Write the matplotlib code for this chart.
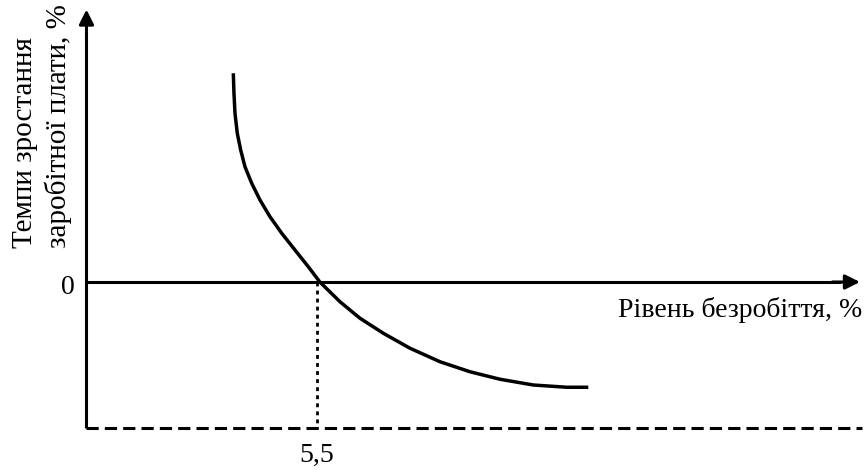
import numpy as np
from matplotlib import pyplot as plt

# Phillips curve
unemployment = [3.504, 3.520, 3.544, 3.599, 3.680, 3.783, 3.943, 4.141,
                4.380, 4.659, 4.976, 5.294, 5.57, 6.050, 6.527, 7.084,
                7.721, 8.437, 9.153, 9.869, 10.663, 11.461, 11.976]
wage_growth = [8.35, 7.55, 6.75, 5.95, 5.28, 4.61, 3.95, 3.28,
               2.61, 1.95, 1.28, 0.61, 0.0, -0.79, -1.45, -2.05,
               -2.65, -3.19, -3.59, -3.89, -4.12, -4.21, -4.21]
natural_rate = 5.5
natural_label = '5,5'
zero_label = '0'
x_label = 'Рівень безробіття, %'
y_label = 'Темпи зростання\nзаробітної плати, %'

x_min, x_max = -2.064, 18.58
y_min, y_max = -7.52, 11.28
y_bottom = -5.84

plt.rcParams['font.family'] = ['Liberation Serif', 'DejaVu Serif']

fig = plt.figure(figsize=(8.65, 4.7), dpi=100)
ax = fig.add_axes([0, 0, 1, 1])
ax.set_xlim(x_min, x_max)
ax.set_ylim(y_min, y_max)
ax.axis('off')

lw = 2.2
arrow = dict(arrowstyle='-|>', color='black', lw=lw,
             mutation_scale=22, shrinkA=0, shrinkB=0)
# vertical axis with arrow
ax.plot([0, 0], [y_bottom, 10.0], color='black', lw=lw, solid_capstyle='butt')
ax.annotate('', xy=(0, 10.9), xytext=(0, 9.7), arrowprops=arrow)
# horizontal axis with arrow
ax.plot([0, 18.0], [0, 0], color='black', lw=lw, solid_capstyle='butt')
ax.annotate('', xy=(18.46, 0), xytext=(17.8, 0), arrowprops=arrow)

# bottom dashed line and dotted guide
ax.plot([0, 18.51], [y_bottom, y_bottom], color='black', lw=lw,
        linestyle=(0, (4, 2)))
ax.plot([natural_rate, natural_rate], [0, y_bottom], color='black', lw=2.0,
        linestyle=(0, (1.4, 1.5)))

# the curve
ax.plot(unemployment, wage_growth, color='black', lw=2.5,
        solid_capstyle='butt', solid_joinstyle='round')

# labels
ax.text(-0.274, -0.22, zero_label, ha='right', va='center', fontsize=20)
ax.text(natural_rate, -6.92, natural_label, ha='center', va='center', fontsize=20)
ax.text(18.51, -1.12, x_label, ha='right', va='center', fontsize=20)
ax.text(-1.062, 1.36, y_label, ha='center', va='bottom', rotation=90,
        fontsize=21, linespacing=1.3, multialignment='left')

fig.savefig('out.png', dpi=100)
